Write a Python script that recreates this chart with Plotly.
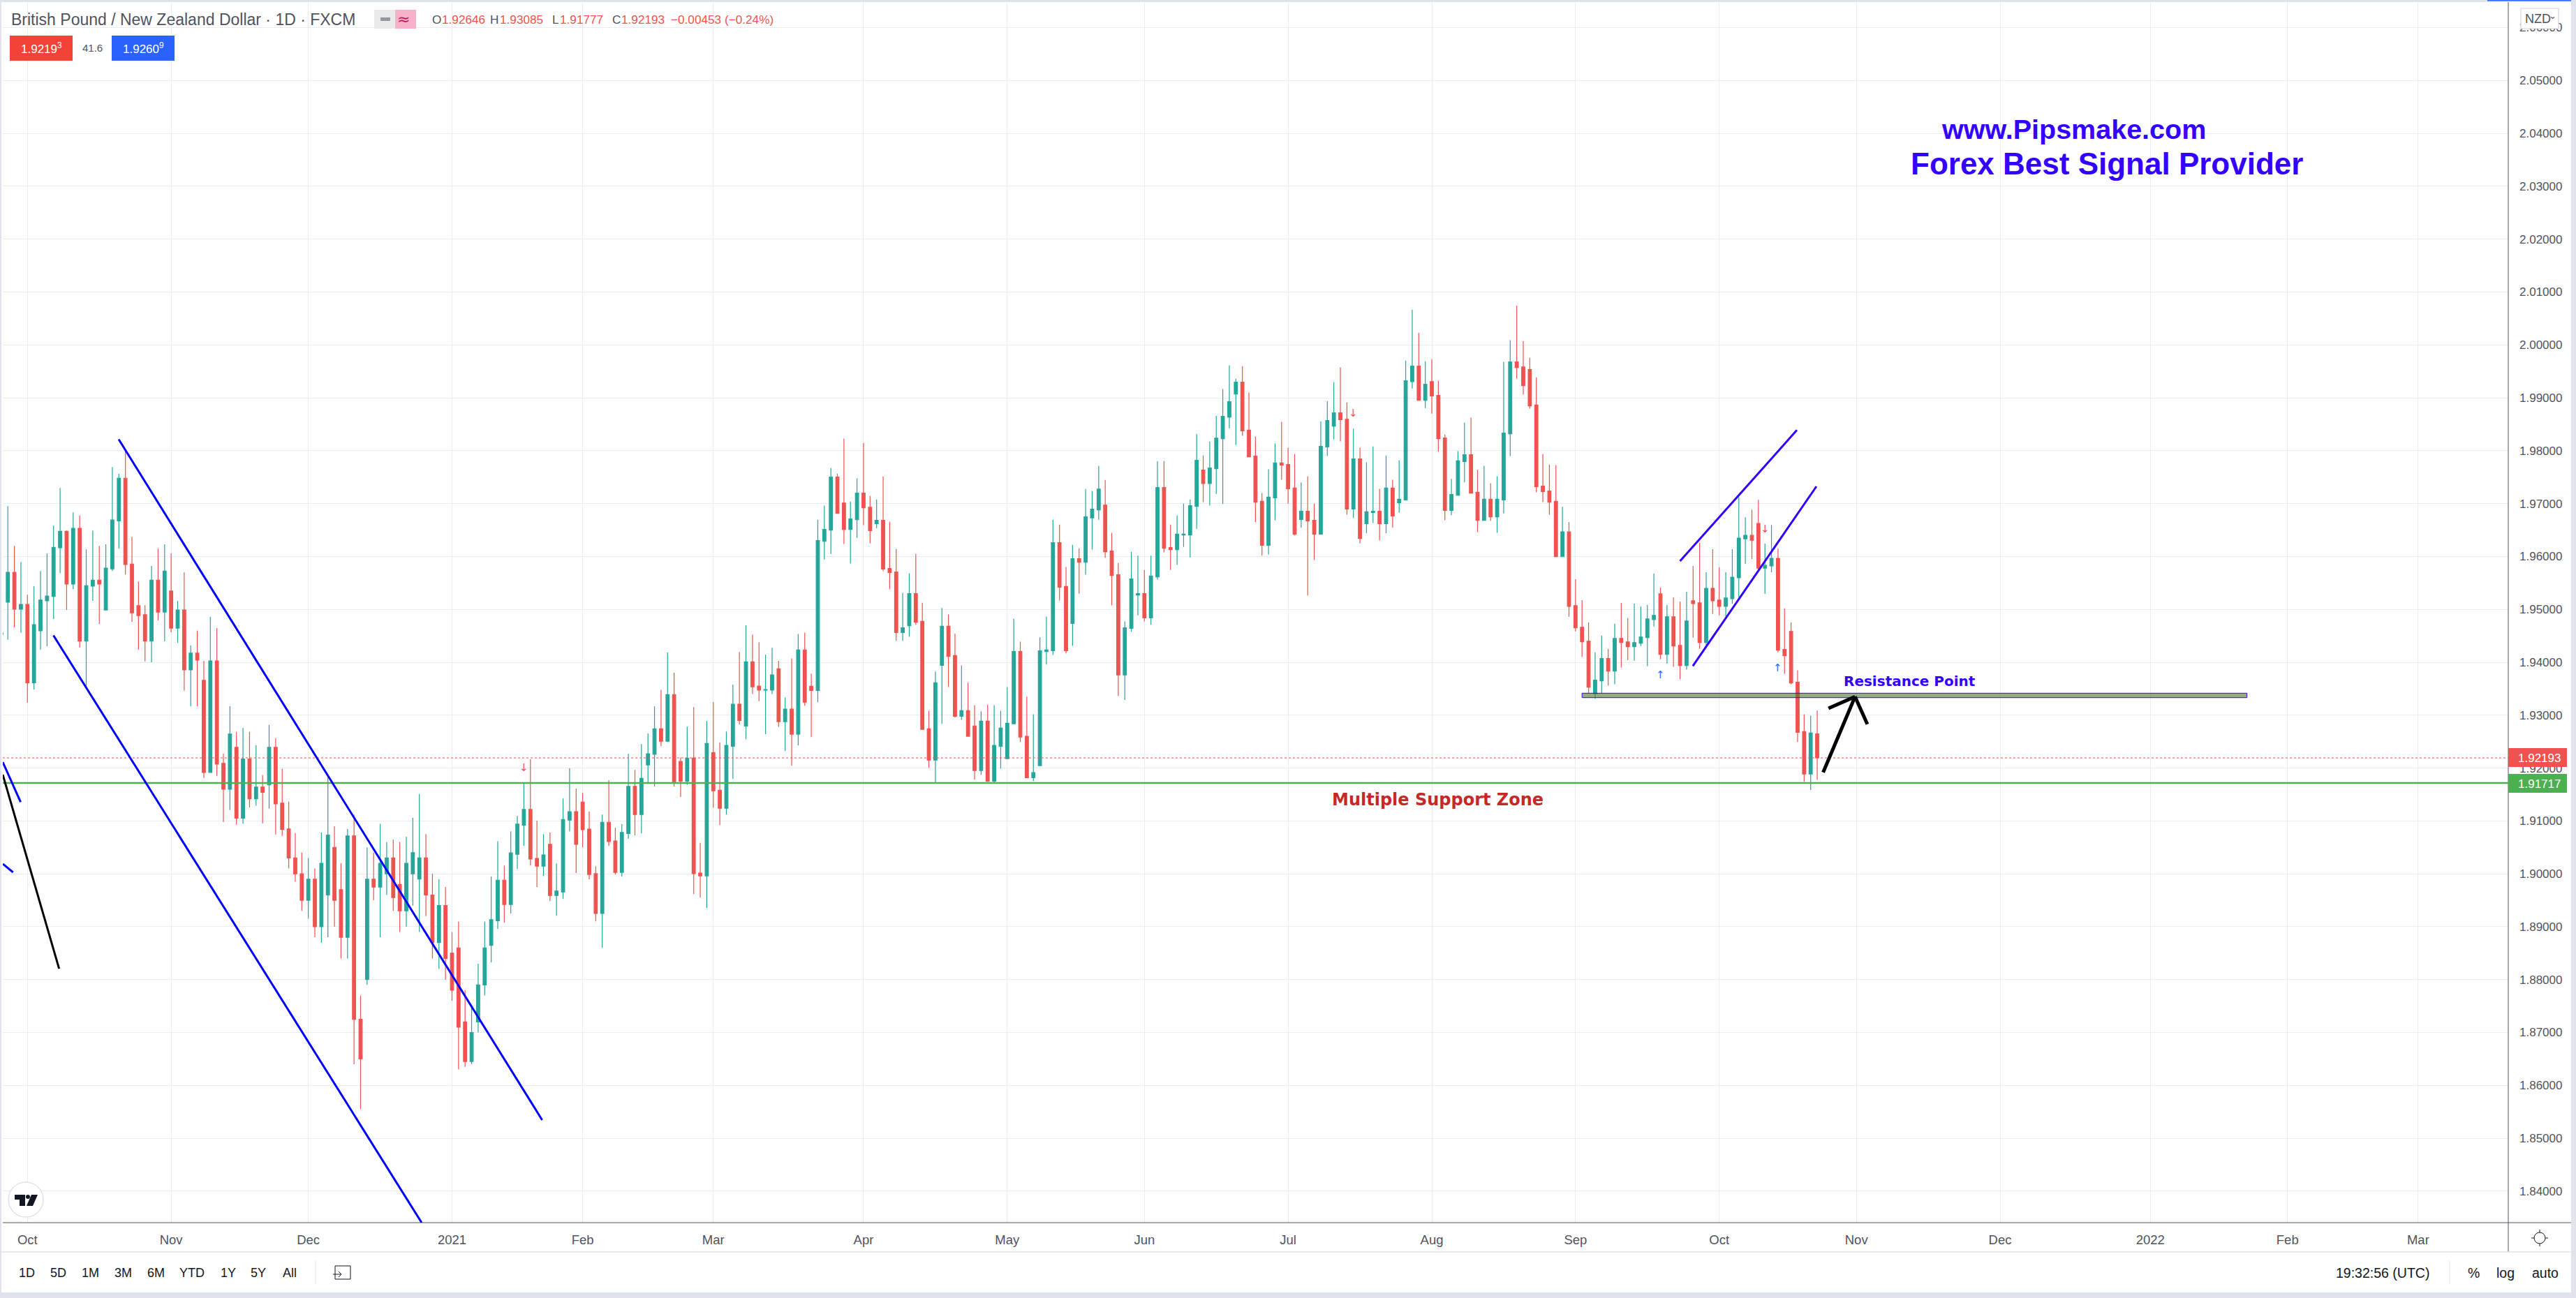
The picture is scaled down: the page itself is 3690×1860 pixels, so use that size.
import plotly.graph_objects as go

bar_index = list(range(1, 280))

opens = [1.94525,1.95135,1.957,1.95004,1.95095,1.93613,1.94596,1.95161,1.95246,1.96164,
1.96477,1.95478,1.96532,1.94399,1.95438,1.95554,1.94989,1.95766,1.96674,1.9748,
1.95857,1.9507,1.94898,1.94399,1.95554,1.94949,1.95347,1.94646,1.94989,1.93855,
1.94172,1.93658,1.91918,1.94026,1.9209,1.916,1.92392,1.91051,1.9217,1.91419,
1.91641,1.91681,1.92392,1.91338,1.90849,1.9030,1.9000,1.8950,1.8990,1.8900,
1.8960,1.9050,1.8970,1.8880,1.90718,1.8725,1.8800,1.8990,1.8975,1.9000,
1.9030,1.8980,1.8930,1.9000,1.8990,1.9030,1.8960,1.8870,1.8940,1.8850,
1.8860,1.8720,1.8645,1.8720,1.8790,1.88649,1.89114,1.8988,1.89421,1.90369,
1.90922,1.91217,1.90292,1.90145,1.90557,1.89591,1.89656,1.91016,1.91175,1.91358,
1.90846,1.90003,1.8925,1.90975,1.90622,1.90027,1.90763,1.91652,1.91122,1.92059,
1.92259,1.92742,1.92506,1.9339,1.92124,1.91753,1.92188,1.90015,1.89962,1.92294,
1.91582,1.9124,1.92412,1.93207,1.92795,1.94008,1.93549,1.93472,1.93472,1.93876,
1.92877,1.93114,1.9264,1.94234,1.93548,1.93467,1.96286,1.96498,1.97502,1.97012,
1.96513,1.96695,1.97199,1.96932,1.96619,1.96684,1.95772,1.95706,1.94561,1.94692,
1.95298,1.94773,1.92741,1.92151,1.93941,1.94682,1.94128,1.92978,1.93084,1.92796,
1.91954,1.92887,1.91753,1.92413,1.92176,1.92837,1.94203,1.926,1.91818,1.92045,
1.94203,1.94218,1.96261,1.95434,1.94733,1.95958,1.95893,1.9673,1.96881,1.96972,
1.96104,1.95656,1.9376,1.94642,1.95272,1.95298,1.94839,1.95615,1.97305,1.9617,
1.9613,1.96407,1.96407,1.96947,1.97633,1.9738,1.97658,1.98227,1.98636,1.9907,
1.99297,1.98389,1.97899,1.97042,1.9621,1.97108,1.97768,1.97738,1.97294,1.96699,
1.96856,1.96684,1.96422,1.98071,1.98464,1.98717,1.98595,1.96896,1.97844,1.96619,
1.9683,1.96856,1.96619,1.97294,1.97017,1.97068,1.99307,1.99599,1.98954,1.99307,
1.99044,1.98242,1.96871,1.97158,1.97794,1.97925,1.97214,1.96684,1.97083,1.9675,
1.97068,1.98318,1.9968,1.99584,1.99533,1.98863,1.9733,1.97239,1.97042,1.95996,
1.96465,1.9507,1.94663,1.94399,1.93408,1.9365,1.94071,1.93834,1.94452,1.94386,
1.94294,1.9436,1.94465,1.94807,1.95294,1.9415,1.9486,1.9432,1.93939,1.95163,
1.95123,1.94373,1.95399,1.95176,1.95057,1.95202,1.95597,1.96334,1.96399,1.96623,
1.95781,1.95821,1.95965,1.94242,1.94584,1.93623,1.92689,1.91886,1.92646]

highs = [1.94556,1.96951,1.962,1.95897,1.95277,1.95438,1.95725,1.96058,1.96583,1.97294,
1.96492,1.96835,1.96779,1.96134,1.96492,1.962,1.9623,1.97692,1.97561,1.97995,
1.96371,1.95529,1.9508,1.95821,1.96149,1.9623,1.96058,1.95161,1.957,1.94318,
1.94596,1.94026,1.94858,1.94646,1.92276,1.93169,1.92685,1.9276,1.92685,1.92432,
1.91868,1.92816,1.92564,1.91984,1.91363,1.9077,1.9040,1.9030,1.9010,1.9078,
1.91842,1.9090,1.9020,1.9085,1.91121,1.8770,1.9050,1.9040,1.90945,1.9060,
1.9065,1.9060,1.9070,1.9106,1.91509,1.9075,1.9000,1.8990,1.8975,1.8890,
1.8910,1.8780,1.8750,1.8830,1.8910,1.8995,1.90616,1.90157,1.90804,1.91093,
1.91711,1.92165,1.91005,1.90751,1.90781,1.90198,1.91423,1.91994,1.91611,1.91529,
1.91175,1.90145,1.91122,1.9177,1.90869,1.9094,1.92271,1.91965,1.92453,1.92654,
1.93166,1.93478,1.94185,1.93802,1.922,1.92783,1.93154,1.90586,1.92889,1.93248,
1.92483,1.92689,1.93578,1.94196,1.947,1.94526,1.94379,1.94143,1.94273,1.94026,
1.93336,1.94072,1.94536,1.94561,1.93785,1.96695,1.96962,1.97673,1.97567,1.98228,
1.97037,1.97476,1.98147,1.97143,1.97078,1.97512,1.96659,1.96145,1.95313,1.95681,
1.96049,1.95126,1.93084,1.93825,1.95025,1.94904,1.94546,1.93941,1.93613,1.9319,
1.93074,1.932,1.9319,1.93084,1.93533,1.94824,1.9439,1.93351,1.93018,1.94471,
1.94864,1.96695,1.96604,1.95802,1.96221,1.96155,1.97274,1.97239,1.97713,1.97446,
1.96447,1.95878,1.94773,1.96089,1.96014,1.95746,1.96014,1.97804,1.97804,1.96604,
1.96775,1.97,1.97078,1.98318,1.9791,1.98172,1.98661,1.99165,1.99614,1.99362,
1.99599,1.991,1.98268,1.97199,1.97647,1.98137,1.98545,1.98056,1.9794,1.974,
1.97516,1.97,1.98555,1.98938,1.99297,1.99574,1.98913,1.98414,1.98056,1.97779,
1.98081,1.97279,1.9791,1.97451,1.97819,1.99705,2.00668,2.00229,1.9969,1.9973,
1.99322,1.98308,1.97466,1.9799,1.9853,1.98626,1.97637,1.97713,1.97385,1.97516,
1.9968,2.00088,2.00744,2.00073,1.9976,1.99387,1.9794,1.97738,1.97728,1.96939,
1.9665,1.9557,1.95176,1.94755,1.94189,1.94505,1.94255,1.94728,1.95123,1.94834,
1.9511,1.95057,1.95084,1.95676,1.95413,1.95084,1.95228,1.95149,1.95334,1.95821,
1.96255,1.95702,1.96136,1.95794,1.95702,1.96136,1.97123,1.96742,1.96886,1.97071,
1.96242,1.96597,1.9615,1.95018,1.94755,1.93847,1.93018,1.92992,1.93085]

lows = [1.94525,1.94424,1.94661,1.94556,1.93234,1.93486,1.94238,1.94303,1.94818,1.95685,
1.94989,1.95383,1.94278,1.93542,1.95161,1.94727,1.94989,1.95725,1.96149,1.9566,
1.94767,1.94238,1.94016,1.93999,1.94793,1.944,1.94566,1.94369,1.93461,1.93169,
1.93169,1.91812,1.91918,1.91853,1.9098,1.91207,1.9093,1.90945,1.91257,1.91288,
1.90955,1.91232,1.90743,1.90718,1.90100,1.8985,1.8930,1.8915,1.8880,1.8870,
1.8880,1.8900,1.8840,1.8840,1.8640,1.8555,1.8790,1.8950,1.8880,1.8960,
1.8930,1.8890,1.8900,1.8940,1.8890,1.8920,1.8840,1.8820,1.8800,1.8760,
1.8630,1.8635,1.8640,1.8700,1.8770,1.88325,1.88961,1.89079,1.8925,1.90092,
1.90528,1.90157,1.8975,1.89962,1.89485,1.89208,1.89526,1.90804,1.90015,1.90504,
1.89898,1.89103,1.88602,1.90528,1.89986,1.8995,1.90663,1.90728,1.90763,1.91711,
1.91652,1.92412,1.92494,1.91652,1.91452,1.91682,1.89621,1.8955,1.89356,1.91252,
1.90922,1.91122,1.91794,1.92824,1.92547,1.93401,1.93266,1.92642,1.93401,1.92781,
1.92322,1.92045,1.92428,1.9318,1.92585,1.93245,1.95943,1.96049,1.96816,1.96236,
1.95868,1.96352,1.96594,1.96251,1.96538,1.95721,1.95378,1.94405,1.94405,1.94481,
1.94708,1.92731,1.92005,1.91712,1.92837,1.93533,1.92953,1.92912,1.926,1.91783,
1.91874,1.91737,1.91727,1.9199,1.92176,1.92837,1.92494,1.91818,1.91753,1.92045,
1.93956,1.94138,1.95167,1.94168,1.94309,1.95298,1.95656,1.9613,1.96695,1.95973,
1.95076,1.93361,1.93286,1.94577,1.94889,1.94773,1.94708,1.95565,1.96079,1.95746,
1.95842,1.9618,1.95983,1.96523,1.97027,1.96962,1.97184,1.96992,1.98424,1.98111,
1.98283,1.97884,1.96649,1.96014,1.96039,1.96684,1.97451,1.97,1.96397,1.96543,
1.95262,1.95933,1.96422,1.97899,1.98217,1.98177,1.9679,1.96725,1.9625,1.96437,
1.96634,1.96306,1.96437,1.96543,1.9683,1.97068,1.99175,1.98954,1.98807,1.98701,
1.9798,1.96684,1.9678,1.97148,1.974,1.97199,1.96462,1.96684,1.96674,1.96447,
1.96815,1.97899,1.99362,1.9906,1.98797,1.97214,1.97027,1.9679,1.95988,1.95996,
1.9486,1.94584,1.94101,1.93421,1.93312,1.93421,1.93557,1.93584,1.939,1.94044,
1.94031,1.94307,1.93926,1.94676,1.94057,1.93978,1.93913,1.93676,1.9386,1.94465,
1.94255,1.9432,1.94913,1.94886,1.94869,1.9511,1.9522,1.9586,1.95952,1.95746,
1.95294,1.95702,1.94189,1.93781,1.93584,1.92492,1.91742,1.91584,1.91777]

closes = [1.94556,1.957,1.95004,1.95095,1.93613,1.94712,1.95176,1.95251,1.96174,1.96477,
1.95478,1.96532,1.94399,1.95448,1.95554,1.95478,1.95781,1.96689,1.9748,1.95847,
1.94934,1.94883,1.94399,1.95554,1.94949,1.95725,1.94646,1.94989,1.93855,1.94172,
1.94041,1.91918,1.94026,1.92074,1.916,1.92644,1.91051,1.9217,1.91419,1.91641,
1.9154,1.92392,1.91323,1.90839,1.90300,1.9000,1.8950,1.8990,1.8900,1.9020,
1.90733,1.8950,1.8880,1.90718,1.8725,1.8650,1.8990,1.8975,1.9020,1.9030,
1.8955,1.8930,1.9020,1.9040,1.9030,1.8960,1.8870,1.8940,1.8840,1.8780,
1.8710,1.8645,1.8700,1.8790,1.8860,1.89132,1.8988,1.89421,1.90398,1.9094,
1.91217,1.9028,1.90145,1.90357,1.89591,1.89674,1.91028,1.91175,1.90557,1.90834,
1.89986,1.8925,1.90975,1.9061,1.90027,1.90781,1.91652,1.91122,1.91806,1.92271,
1.92742,1.92506,1.9339,1.91741,1.91753,1.92188,1.90003,1.89962,1.92465,1.9157,
1.9124,1.9243,1.93207,1.92901,1.94008,1.93537,1.93472,1.93484,1.93761,1.92877,
1.93114,1.9264,1.94234,1.93245,1.93467,1.96301,1.96513,1.97502,1.96816,1.96513,
1.9671,1.97199,1.96922,1.96488,1.96684,1.95762,1.95696,1.94561,1.94652,1.95298,
1.94758,1.92731,1.92151,1.93613,1.94682,1.94113,1.92978,1.93084,1.926,1.91954,
1.92887,1.91753,1.92428,1.92756,1.92847,1.94203,1.92585,1.91818,1.91914,1.94218,
1.94234,1.96261,1.95419,1.94218,1.95958,1.95893,1.9675,1.96896,1.97274,1.96089,
1.95641,1.9376,1.94652,1.95575,1.95298,1.94839,1.9563,1.97305,1.96155,1.9613,
1.96422,1.96422,1.96962,1.97819,1.9738,1.97673,1.98238,1.98651,1.98928,1.99297,
1.98374,1.97884,1.97027,1.9621,1.97123,1.97768,1.97728,1.97279,1.96422,1.96856,
1.96674,1.96422,1.98081,1.9857,1.98717,1.98585,1.96896,1.97844,1.96341,1.96846,
1.96856,1.96619,1.97294,1.96765,1.97083,1.99322,1.99599,1.98954,1.99256,1.99034,
1.98227,1.96871,1.97173,1.97809,1.97925,1.97199,1.96684,1.97083,1.9675,1.97083,
1.98333,1.9968,1.99574,1.99231,1.98848,1.9732,1.97229,1.97027,1.95996,1.96465,
1.95057,1.9465,1.94386,1.93531,1.93663,1.94071,1.93834,1.94452,1.94373,1.94294,
1.94373,1.94478,1.9482,1.94886,1.9415,1.9486,1.94307,1.93939,1.94781,1.9511,
1.94373,1.95399,1.95163,1.95057,1.95215,1.9561,1.96347,1.96399,1.96307,1.95781,
1.95834,1.95965,1.94229,1.94123,1.9361,1.92676,1.91886,1.92663,1.92193]

assert len(bar_index) == len(opens) == len(highs) == len(lows) == len(closes)

x_tick_positions = [5, 27, 48, 70, 90, 110, 133, 155, 176, 198, 220, 242, 264, 285, 307, 330, 351, 371]
x_tick_labels = ["Oct", "Nov", "Dec", "2021", "Feb", "Mar", "Apr", "May", "Jun", "Jul", "Aug", "Sep", "Oct", "Nov", "Dec", "2022", "Feb", "Mar"]
y_ticks = [1.84, 1.85, 1.86, 1.87, 1.88, 1.89, 1.90, 1.91, 1.92, 1.93, 1.94, 1.95, 1.96, 1.97, 1.98, 1.99, 2.00, 2.01, 2.02, 2.03, 2.04, 2.05, 2.06]

last_price = 1.92193
support_price = 1.91717
resistance_top = 1.93415
resistance_bottom = 1.93331
resistance_span = [243.0, 344.8]

blue_lines = [
    ((18.97, 1.98215), (83.8, 1.85345)),
    ((8.98, 1.94509), (65.35, 1.83405)),
    ((1.227, 1.92113), (3.96, 1.91355)),
    ((1.227, 1.90188), (2.8, 1.90029)),
]
violet_lines = [
    ((258.0, 1.95912), (275.89, 1.9839)),
    ((259.96, 1.9393), (278.88, 1.97325)),
]
black_lines = [
    ((1.227, 1.91875), (9.85, 1.88207)),
]
big_arrow = [
    ((279.91, 1.91919), (284.79, 1.93349)),
    ((280.73, 1.93129), (284.79, 1.93349)),
    ((284.79, 1.93349), (286.68, 1.92829)),
]
down_marks = [(81, 1.92007), (208, 1.9871), (271, 1.9652)]
up_marks = [(255, 1.93762), (273, 1.93894)]

W, H = 3690, 1860
L, R, T, B = 4, 3593, 3, 1752
TEAL, RED = "#26a69a", "#ef5350"
GRID = "#e6edf3"
AXIS = "#50535e"
VIOLET = "#3300ff"
SANS = "Liberation Sans"


def PX(v):
    return (v - L) / (R - L)


def PY(v):
    return 1 - (v - T) / (B - T)


shapes, notes = [], []


def rect(x0, y0, x1, y1, fill, line=None, width=0, layer="above"):
    shapes.append(dict(type="rect", xref="paper", yref="paper", x0=PX(x0), x1=PX(x1), y0=PY(y0), y1=PY(y1),
                       fillcolor=fill, line=dict(color=line or fill, width=width), layer=layer))


def seg(x0, y0, x1, y1, color, width=1, layer="above"):
    shapes.append(dict(type="line", xref="paper", yref="paper", x0=PX(x0), x1=PX(x1), y0=PY(y0), y1=PY(y1),
                       line=dict(color=color, width=width), layer=layer))


def circle(cx, cy, r, fill, line, width=1):
    shapes.append(dict(type="circle", xref="paper", yref="paper", x0=PX(cx - r), x1=PX(cx + r), y0=PY(cy + r), y1=PY(cy - r),
                       fillcolor=fill, line=dict(color=line, width=width), layer="above"))


def poly(points, fill):
    path = "M " + " L ".join(f"{PX(a):.6f},{PY(b):.6f}" for a, b in points) + " Z"
    shapes.append(dict(type="path", xref="paper", yref="paper", path=path, fillcolor=fill, line=dict(width=0), layer="above"))


def note(text, x, y, size, color, anchor="center", family=SANS, weight="normal"):
    notes.append(dict(text=text, xref="paper", yref="paper", x=PX(x), y=PY(y), xanchor=anchor, yanchor="middle", showarrow=False,
                      font=dict(family=family, size=size, color=color, weight=weight), borderpad=0, borderwidth=0))


def data_line(pair, color, width):
    (a, b), (c, d) = pair
    shapes.append(dict(type="line", xref="x", yref="y", x0=a, y0=b, x1=c, y1=d, line=dict(color=color, width=width), layer="above"))


# window frame
rect(2, 3, 3683, 1852, "#ffffff", layer="below")
rect(3563, 0, 3683, 1.5, "#2962ff", layer="below")
seg(R, 3, R, 1794, AXIS, 1)
seg(L, B, 3683, B, AXIS, 1)
seg(2, 1794, 3683, 1794, "#e0e3eb", 1.5)

# price levels and drawings
shapes.append(dict(type="line", xref="paper", yref="y", x0=0, x1=1, y0=last_price, y1=last_price,
                   line=dict(color=RED, width=1, dash="dot"), layer="above"))
shapes.append(dict(type="line", xref="paper", yref="y", x0=0, x1=1, y0=support_price, y1=support_price,
                   line=dict(color="#4caf50", width=2.6), layer="above"))
shapes.append(dict(type="rect", xref="x", yref="y", x0=resistance_span[0], x1=resistance_span[1], y0=resistance_bottom,
                   y1=resistance_top, fillcolor="rgba(73,117,63,0.6)", line=dict(color=VIOLET, width=1), layer="above"))
for p in blue_lines:
    data_line(p, "#0000ff", 3)
for p in violet_lines:
    data_line(p, VIOLET, 3)
for p in black_lines:
    data_line(p, "#000000", 3)
for p in big_arrow:
    data_line(p, "#000000", 5)

# data-anchored labels
for i, p in down_marks:
    notes.append(dict(text="↓", x=i, y=p, xref="x", yref="y", showarrow=False, font=dict(family="DejaVu Sans", size=15, color=RED)))
for i, p in up_marks:
    notes.append(dict(text="↑", x=i, y=p, xref="x", yref="y", showarrow=False, font=dict(family="DejaVu Sans", size=15, color="#2962ff")))
notes.append(dict(text="Multiple Support Zone", x=220.96, y=1.9140, xref="x", yref="y", showarrow=False,
                  font=dict(family="DejaVu Sans", size=24, color="#c62828", weight="bold")))
notes.append(dict(text="Resistance Point", x=293.2, y=1.93644, xref="x", yref="y", showarrow=False,
                  font=dict(family="DejaVu Sans", size=20, color=VIOLET, weight="bold")))

# promo text
note("www.Pipsmake.com", 2970, 185, 39.5, VIOLET, weight="bold")
note("Forex Best Signal Provider", 3018, 235, 44, VIOLET, weight="bold")

# header
note("British Pound / New Zealand Dollar · 1D · FXCM", 16, 28, 23, AXIS, anchor="left")
rect(536, 14, 566, 41, "#e9eaee")
rect(566, 14, 596, 41, "#f7b1c8")
rect(545, 25, 559, 30, "#9598a1")
note("≈", 578, 27, 22, "#c2185b", family="DejaVu Sans")
for letter, lx, value, vx in [("O", 619, "1.92646", 633), ("H", 702, "1.93085", 716),
                              ("L", 791, "1.91777", 802), ("C", 877, "1.92193", 890)]:
    note(letter, lx, 28, 17.2, AXIS, anchor="left")
    note(value, vx, 28, 17.2, RED, anchor="left")
note("−0.00453 (−0.24%)", 961, 28, 17.2, RED, anchor="left")
rect(14, 51, 104, 87, "#f44336")
note("1.9219<sup>3</sup>", 59, 69, 17, "#ffffff")
note("41.6", 132, 69, 15, AXIS)
rect(160, 51, 250, 87, "#2962ff")
note("1.9260<sup>9</sup>", 205, 69, 17, "#ffffff")

# currency button
rect(3611, 12, 3665, 41, "#ffffff", "#d1d4dc", 1.2)
note("NZD", 3617, 27, 18, AXIS, anchor="left")
note("⌄", 3656, 23, 13, AXIS, family="DejaVu Sans")

# price badges
rect(3593, 1072, 3677, 1099, RED)
note("1.92193", 3668, 1086, 17, "#ffffff", anchor="right")
rect(3593, 1109, 3677, 1136, "#4caf50")
note("1.91717", 3668, 1123, 17, "#ffffff", anchor="right")

# watermark logo
circle(37, 1719, 25, "#ffffff", "#e0e3eb", 1.5)
poly([(21, 1712), (36, 1712), (36, 1728), (28, 1728), (28, 1719), (21, 1719)], "#131722")
circle(40, 1715, 3, "#131722", "#131722", 0)
poly([(45, 1712), (54, 1712), (47, 1728), (38, 1728)], "#131722")

# bottom toolbar
for label, cx in zip(["1D", "5D", "1M", "3M", "6M", "YTD", "1Y", "5Y", "All"], [38, 83, 129.5, 176, 223, 275, 326.5, 370, 415]):
    note(label, cx, 1824, 18, "#131722")
seg(452, 1807, 452, 1840, "#e0e3eb", 1)
rect(480, 1814, 502, 1833, "#ffffff", "#131722", 1)
seg(477, 1826, 489, 1826, "#131722", 1)
seg(485, 1822, 489, 1826, "#131722", 1)
seg(485, 1830, 489, 1826, "#131722", 1)
note("19:32:56 (UTC)", 3413, 1824, 19.5, "#131722")
seg(3509, 1807, 3509, 1840, "#e0e3eb", 1)
note("%", 3543, 1824, 19.5, "#131722")
note("log", 3589, 1824, 19.5, "#131722")
note("auto", 3646, 1824, 19.5, "#131722")
circle(3638, 1774, 8, "#ffffff", "#131722", 1)
for a, b, c, d in [(3638, 1762, 3638, 1766), (3638, 1782, 3638, 1786), (3626, 1774, 3630, 1774), (3646, 1774, 3650, 1774)]:
    seg(a, b, c, d, "#131722", 1)

fig = go.Figure(go.Candlestick(
    x=bar_index, open=opens, high=highs, low=lows, close=closes,
    increasing=dict(line=dict(color=TEAL, width=1.2), fillcolor=TEAL),
    decreasing=dict(line=dict(color=RED, width=1.2), fillcolor=RED),
    whiskerwidth=0, hoverinfo="skip", showlegend=False,
))
fig.update_layout(
    width=W, height=H, autosize=False,
    margin=dict(l=L, r=W - R, t=T, b=H - B, pad=0),
    paper_bgcolor="#e0e3eb", plot_bgcolor="#ffffff",
    boxgap=0.3, showlegend=False, shapes=shapes, annotations=notes,
    font=dict(family=SANS, size=17, color=AXIS),
    xaxis=dict(range=[1.227, 384.8], tickmode="array", tickvals=x_tick_positions, ticktext=x_tick_labels,
               showgrid=True, gridcolor=GRID, gridwidth=1, zeroline=False, showline=False, ticks="",
               rangeslider=dict(visible=False), ticklabelstandoff=11, tickfont=dict(family=SANS, size=18.5, color=AXIS)),
    yaxis=dict(range=[1.83405, 2.06482], side="right", tickmode="array", tickvals=y_ticks,
               ticktext=[f"{v:.5f}" for v in y_ticks], showgrid=True, gridcolor=GRID, gridwidth=1, zeroline=False,
               showline=False, ticks="", ticklabelstandoff=15, tickfont=dict(family=SANS, size=17, color=AXIS)),
)
fig.write_html("out.html", config={"displayModeBar": False},
               post_script="document.body.style.margin='0';document.body.style.overflow='hidden';")
